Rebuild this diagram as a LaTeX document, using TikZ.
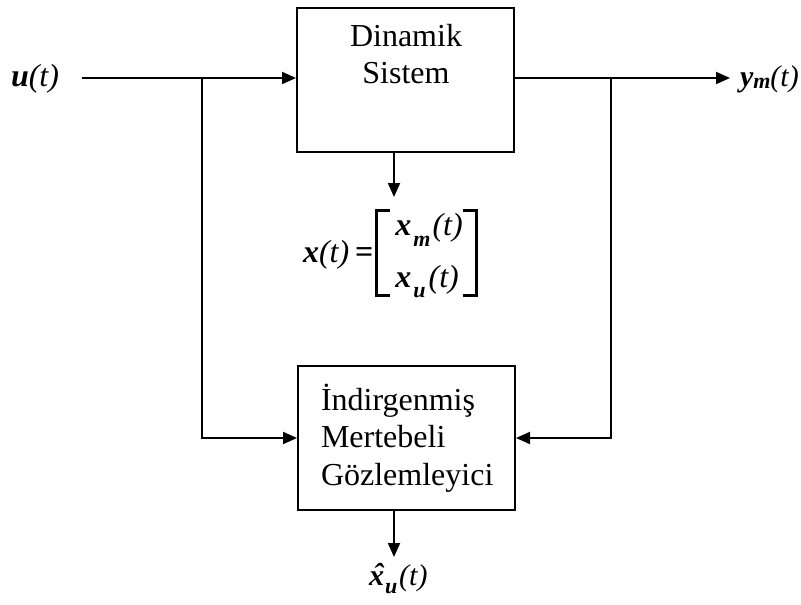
\documentclass[tikz,border=0pt]{standalone}
\usepackage{fontspec}
\setmainfont{Liberation Serif}
\usetikzlibrary{arrows.meta,calc}
\newcommand{\bx}{\bfseries\itshape}
\newcommand{\itx}{\itshape}
\newcommand{\sub}[2]{\raisebox{-#1}{\fontsize{22}{22}\selectfont\bx #2}}
\newcommand{\lbrk}{\rule[-35pt]{3pt}{88pt}\hspace{-3pt}\rule[50pt]{15pt}{3pt}\hspace{-15pt}\rule[-35pt]{15pt}{3pt}}
\newcommand{\rbrk}{\rule[50pt]{15pt}{3pt}\hspace{-15pt}\rule[-35pt]{15pt}{3pt}\hspace{-3pt}\rule[-35pt]{3pt}{88pt}}
\begin{document}
\begin{tikzpicture}[x=1pt,y=-1pt,
  line width=2pt,
  arr/.style={-{Triangle[length=14pt,width=12pt]}},
  blk/.style={draw,line width=2pt,minimum width=217pt,minimum height=144pt,inner sep=0pt},
  txt/.style={font=\fontsize{32}{37.5}\selectfont,inner sep=0pt},
  mth/.style={font=\fontsize{32}{36}\selectfont,inner sep=0pt,anchor=base west}]
\useasboundingbox (0,0) rectangle (801,605);
% blocks
\node[blk] (sys) at (405.5,80) {};
\node[txt,align=center,anchor=north] (systxt) at (406,23) {Dinamik\\Sistem};
\node[blk] (obs) at (406.5,438) {};
\node[txt,align=left,anchor=north west] (obstxt) at (320,383) {İndirgenmiş\\Mertebeli\\Gözlemleyici};
% coordinates
\coordinate (uin) at (82,78);
\coordinate (jl) at (202,78);
\coordinate (jr) at (611,78);
\coordinate (yout) at (730,78);
\coordinate (xtop) at (394,152);
\coordinate (xend) at (394,197);
\coordinate (obot) at (394,510);
\coordinate (oend) at (394,557);
% labels
\node[mth] (ulab) at (10,86) {{\bx u}{\itx(t)}};
\node[mth,font=\fontsize{30}{34}\selectfont] (ylab) at (739,86) {{\bx y}\raisebox{-2pt}{\fontsize{22}{22}\selectfont\bx m}{\itx(t)}};
\node[mth] (xeq) at (302,262) {{\bx x}{\itx(t)}\hspace{6pt}{\bfseries=}\hspace{2pt}\lbrk\hspace{5pt}\raisebox{-25pt}{\begin{tabular}[b]{@{}l@{}}{\bx x}\hspace{2pt}\sub{11pt}{m}\hspace{2pt}{\itx(t)}\\[16pt]{\bx x}\hspace{2pt}\sub{10pt}{u}\hspace{3pt}{\itx(t)}\end{tabular}}\hspace{0pt}\rbrk};
\node[mth,font=\fontsize{30}{34}\selectfont] (xhat) at (368,585) {{\ooalign{\bx x\cr\hidewidth\kern3pt\raisebox{1pt}{\bx\char"02C6}\hidewidth\cr}}\hspace{1pt}\sub{8pt}{u}\hspace{2pt}{\itx(t)}};
% connectors
\draw[arr] (uin) -- (uin -| sys.west);
\draw[arr] (sys.east |- yout) -- (yout);
\draw[arr] (jl) -- (jl |- obs.west) -- (obs.west);
\draw[arr] (jr) -- (jr |- obs.east) -- (obs.east);
\draw[arr] (xtop) -- (xend);
\draw[arr] (obot) -- (oend);
\end{tikzpicture}
\end{document}
